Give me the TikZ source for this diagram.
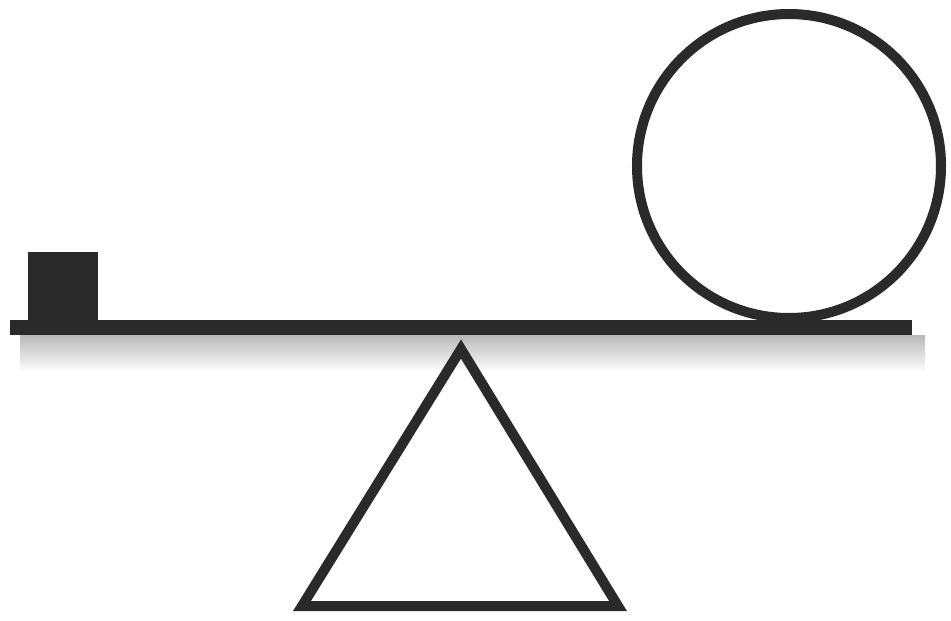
\documentclass[tikz,border=0pt]{standalone}
\definecolor{tinta}{HTML}{2A2A2A}
\begin{document}
\begin{tikzpicture}[x=0.01cm,y=-0.01cm,line width=2.85pt,line join=miter]

\useasboundingbox (0,0) rectangle (951,620);

% Sombra de la tabla
\shade[top color=gray!55,bottom color=white] (20,335) rectangle (925,372);

% Tabla
\fill[tinta] (10,320) rectangle (912,335);

% Bloque
\fill[tinta] (28,252) rectangle (98,322);

% Bola
\draw[tinta,fill=white] (789,166) circle[radius=152];

% Apoyo
\draw[tinta] (461,349) -- (618,606) -- (302,606) -- cycle;

\end{tikzpicture}
\end{document}
